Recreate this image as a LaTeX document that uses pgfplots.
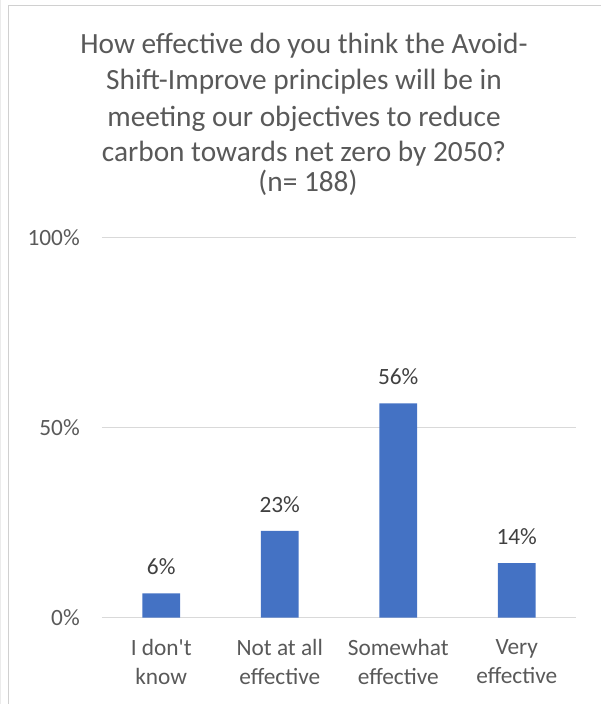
\documentclass[border=0pt]{standalone}
\usepackage{fontspec}
\setmainfont{Carlito}
\usepackage{pgfplots}
\pgfplotsset{compat=1.18}
\definecolor{barblue}{HTML}{4472C4}
\definecolor{txtgray}{HTML}{595959}
\definecolor{lblgray}{HTML}{404040}
\definecolor{gridgray}{HTML}{D9D9D9}
\definecolor{framegray}{HTML}{D0D0D0}

\begin{document}
\begin{tikzpicture}
% 1px = 0.75pt; origin at lower left corner of plot area
\path[use as bounding box] (-76.5pt,-64.725pt) rectangle (374.25pt,463.275pt);
\draw[color=black!8, line width=0.9pt] (-76.1pt,-64.725pt) -- (-76.1pt,463.275pt);
\draw[framegray, line width=1.1pt] (-70.125pt,-64.725pt) -- (-70.125pt,459.15pt) -- (374.25pt,459.15pt);

\begin{axis}[
  at={(0,0)}, anchor=south west,
  scale only axis,
  width=355.5pt, height=285pt,
  xmin=-0.5, xmax=3.5,
  ymin=0, ymax=100,
  ytick={0,50,100},
  yticklabel={\pgfmathprintnumber{\tick}\%},
  /pgf/number format/assume math mode=true,
  ymajorgrids,
  grid style={draw=gridgray, line width=0.75pt},
  axis line style={draw=none},
  major tick length=0pt,
  xtick={0,1,2,3},
  xticklabels={{I don\textquotesingle t\\know},{Not at all\\effective},{Somewhat\\effective},{Very\\effective}},
  xticklabel style={align=center, font=\fontsize{17.5pt}{21.75pt}\selectfont, text=txtgray, anchor=north, inner sep=0pt, yshift=-16pt},
  yticklabel style={font=\fontsize{17.5pt}{20pt}\selectfont, text=txtgray, anchor=east, inner sep=0pt, xshift=-16.5pt},
  ybar, bar width=28.3pt,
  point meta=y,
  nodes near coords={\pgfmathprintnumber[fixed,precision=0]{\pgfplotspointmeta}\%},
  nodes near coords style={font=\fontsize{17.5pt}{20pt}\selectfont, text=lblgray, anchor=south, inner sep=0pt, yshift=13.5pt},
  clip=false,
]
\addplot[fill=barblue, draw=none] coordinates {
  (0,6.38) (1,22.87) (2,56.38) (3,14.36)
};
\end{axis}

\begin{scope}[every node/.style={anchor=base, text=txtgray, inner sep=0pt, font=\fontsize{22pt}{26pt}\selectfont}]
\node at (151.5pt,422.8pt) {How effective do you think the Avoid-};
\node at (151.5pt,395.8pt) {Shift-Improve principles will be in};
\node at (151.5pt,368.3pt) {meeting our objectives to reduce};
\node at (151.5pt,342pt) {carbon towards net zero by 2050?};
\node at (154.5pt,319.6pt) {(n= 188)};
\end{scope}
\end{tikzpicture}
\end{document}
